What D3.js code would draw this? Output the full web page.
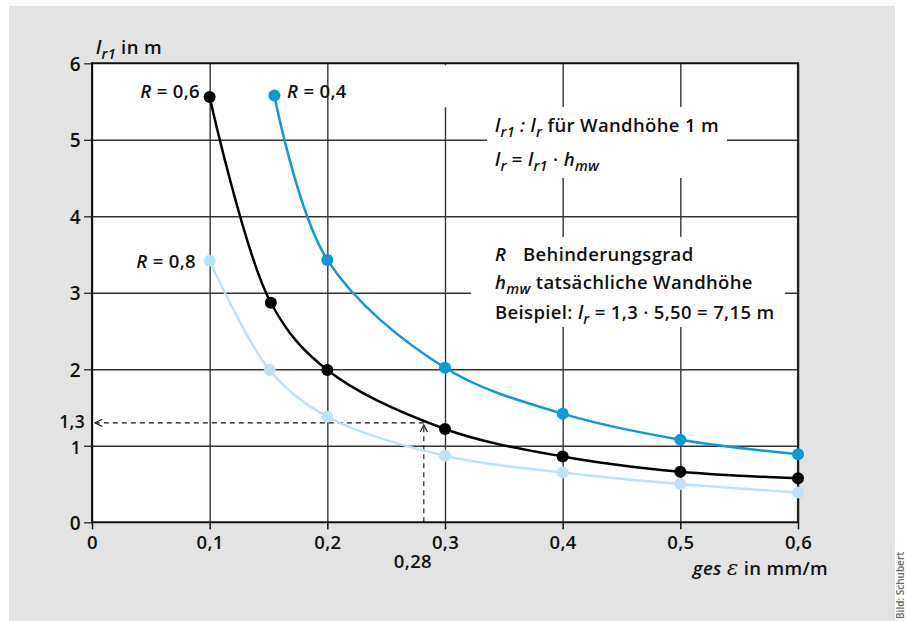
<!DOCTYPE html>
<html><head><meta charset="utf-8">
<script src="https://cdn.jsdelivr.net/npm/d3@7"></script>
<style>
html,body{margin:0;padding:0;background:#fff;}
svg{display:block;}
text{font-family:"Open Sans", Roboto, sans-serif;font-weight:600;fill:#111;letter-spacing:0.35px;}
</style></head><body>
<svg id="c" width="906" height="621"></svg>
<script>
// ---- data ----
const xTicks = [0, 0.1, 0.2, 0.3, 0.4, 0.5, 0.6];
const xTickLabels = ["0", "0,1", "0,2", "0,3", "0,4", "0,5", "0,6"];
const yTicks = [0, 1, 2, 3, 4, 5, 6];
const yTickLabels = ["0", "1", "2", "3", "4", "5", "6"];

const xR04 = [0.155, 0.2, 0.3, 0.4, 0.5, 0.6];
const yR04 = [5.58, 3.43, 2.02, 1.42, 1.08, 0.89];
const xR06 = [0.1, 0.152, 0.2, 0.3, 0.4, 0.5, 0.6];
const yR06 = [5.56, 2.87, 1.99, 1.22, 0.86, 0.66, 0.575];
const xR08 = [0.1, 0.151, 0.2, 0.3, 0.4, 0.5, 0.6];
const yR08 = [3.42, 1.99, 1.38, 0.87, 0.65, 0.50, 0.39];

const exampleX = 0.282;
const exampleY = 1.3;
const exampleXLabel = "0,28";
const exampleYLabel = "1,3";

const colR04 = "#0b9ad8";
const colR06 = "#000000";
const colR08 = "#bce2f5";

const FS = 18.5;
const FY = 17.5;
const FF = "Open Sans";

// ---- layout ----
const svg = d3.select("#c");
svg.append("rect").attr("x",9).attr("y",6).attr("width",886).attr("height",615).attr("fill","#e2e3e2");

const x = d3.scaleLinear().domain([0,0.6]).range([92,798]);
const y = d3.scaleLinear().domain([0,6]).range([522.3,63.3]);

svg.append("rect").attr("x",x(0)).attr("y",y(6)).attr("width",x(0.6)-x(0)).attr("height",y(0)-y(6)).attr("fill","#fff");

// gridlines via axes
const gx = svg.append("g").attr("transform",`translate(0,${y(0)})`)
  .call(d3.axisBottom(x).tickValues(xTicks).tickFormat("").tickSize(-(y(0)-y(6))).tickSizeOuter(0));
gx.select(".domain").remove();
gx.selectAll("line").attr("stroke","#333").attr("stroke-width",1.4);
const gx2 = svg.append("g").attr("transform",`translate(0,${y(0)})`)
  .call(d3.axisBottom(x).tickValues(xTicks).tickFormat((d,i)=>xTickLabels[i]).tickSize(7).tickPadding(7).tickSizeOuter(0));
gx2.select(".domain").remove();
gx2.selectAll("line").attr("stroke","#111").attr("stroke-width",1.5);
gx2.selectAll("text").attr("font-size",FS).attr("font-family",FF).attr("font-weight",600).attr("fill","#111");

const gy = svg.append("g").attr("transform",`translate(${x(0)},0)`)
  .call(d3.axisLeft(y).tickValues(yTicks).tickFormat((d,i)=>yTickLabels[i]).tickSize(8).tickPadding(3).tickSizeOuter(0));
gy.select(".domain").remove();
gy.selectAll("line").attr("stroke","#333").attr("stroke-width",1.4);
gy.selectAll("text").attr("font-size",FY+1.5).attr("font-family",FF).attr("font-weight",600).attr("fill","#111").attr("dy","0.36em");
const gyg = svg.append("g").attr("transform",`translate(${x(0)},0)`)
  .call(d3.axisLeft(y).tickValues(yTicks.slice(1,6)).tickFormat("").tickSize(-(x(0.6)-x(0))).tickSizeOuter(0));
gyg.select(".domain").remove();
gyg.selectAll("line").attr("stroke","#333").attr("stroke-width",1.4);
// slightly smaller label for "1" so it does not collide with "1,3"
gy.selectAll("text").filter(d=>d===1).attr("font-size",FY).attr("dy","0.45em");

// white boxes behind annotation text (interrupt gridlines)
svg.append("rect").attr("x",487).attr("y",107).attr("width",240).attr("height",71).attr("fill","#fff");
svg.append("rect").attr("x",471).attr("y",237).attr("width",314).attr("height",90).attr("fill","#fff");
svg.append("rect").attr("x",x(0.3)-4).attr("y",y(6)+2).attr("width",8).attr("height",42).attr("fill","#fff");

// frame
svg.append("line").attr("x1",x(0)).attr("x2",x(0.6)+1).attr("y1",y(6)).attr("y2",y(6)).attr("stroke","#111").attr("stroke-width",2);
svg.append("line").attr("x1",x(0.6)).attr("x2",x(0.6)).attr("y1",y(6)).attr("y2",y(0)).attr("stroke","#222").attr("stroke-width",2.2);
svg.append("line").attr("x1",x(0)).attr("x2",x(0)).attr("y1",y(6)-1).attr("y2",y(0)+1).attr("stroke","#111").attr("stroke-width",2);
svg.append("line").attr("x1",x(0)).attr("x2",x(0.6)+1).attr("y1",y(0)).attr("y2",y(0)).attr("stroke","#111").attr("stroke-width",2);

// example dashed lines with arrows
const defs = svg.append("defs");
defs.append("marker").attr("id","arr").attr("viewBox","0 0 10 10").attr("refX",9).attr("refY",5)
  .attr("markerWidth",9).attr("markerHeight",9).attr("markerUnits","userSpaceOnUse").attr("orient","auto")
  .append("path").attr("d","M1,1 L9,5 L1,9").attr("fill","none").attr("stroke","#111").attr("stroke-width",1.3);
svg.append("line").attr("x1",x(exampleX)).attr("x2",x(0)+3).attr("y1",y(exampleY)).attr("y2",y(exampleY))
  .attr("stroke","#111").attr("stroke-width",1.1).attr("stroke-dasharray","5,4").attr("marker-end","url(#arr)");
svg.append("line").attr("x1",x(exampleX)).attr("x2",x(exampleX)).attr("y1",y(0)).attr("y2",y(exampleY)+2)
  .attr("stroke","#111").attr("stroke-width",1.1).attr("stroke-dasharray","5,4").attr("marker-end","url(#arr)");

// curves
const series = [
  {xs:xR08, ys:yR08, c:colR08},
  {xs:xR06, ys:yR06, c:colR06},
  {xs:xR04, ys:yR04, c:colR04}
];
const line = d3.line().x(d=>x(d[0])).y(d=>y(d[1])).curve(d3.curveCatmullRom.alpha(0.5));
series.forEach(s=>{
  const pts = s.xs.map((v,i)=>[v,s.ys[i]]);
  svg.append("path").attr("d",line(pts)).attr("fill","none").attr("stroke",s.c).attr("stroke-width",2.5);
  svg.selectAll(null).data(pts).enter().append("circle")
    .attr("cx",d=>x(d[0])).attr("cy",d=>y(d[1])).attr("r",6).attr("fill",s.c);
});

// text helpers
function rich(parent, xx, yy, parts, size, anchor){
  const t = parent.append("text").attr("x",xx).attr("y",yy).attr("font-size",size).attr("text-anchor",anchor||"start");
  parts.forEach(p=>{
    const ts = t.append("tspan").text(p.t);
    if(p.i) ts.attr("font-style","italic");
    if(p.sub){ ts.attr("font-size",size*0.78).attr("dy",size*0.25); }
    if(p.up){ ts.attr("dy",-size*0.25); }
    if(p.f) ts.attr("font-family",p.f);
    if(p.fs) ts.attr("font-size",p.fs);
    if(p.w) ts.attr("font-weight",p.w);
  });
  return t;
}

// axis titles
rich(svg, 96, 54, [{t:"l",i:1},{t:"r1",i:1,sub:1},{t:" in m",up:1}], FS);
rich(svg, 828, 575, [{t:"ges ",i:1},{t:"ε",i:1,f:"DejaVu Serif",fs:21,w:400},{t:" in mm/m"}], FS, "end");

// extra tick labels
svg.append("text").attr("x",85).attr("y",y(exampleY)).attr("dy","0.3em").attr("text-anchor","end").attr("font-size",FY).text(exampleYLabel);
svg.append("text").attr("x",432).attr("y",568).attr("text-anchor","end").attr("font-size",FS).text(exampleXLabel);

// series labels
rich(svg, 200, 98, [{t:"R",i:1},{t:" = 0,6"}], FS, "end");
rich(svg, 287, 98, [{t:"R",i:1},{t:" = 0,4"}], FS, "start");
rich(svg, 196, 268, [{t:"R",i:1},{t:" = 0,8"}], FS, "end");

// annotation texts
rich(svg, 495, 132, [{t:"l",i:1},{t:"r1",i:1,sub:1},{t:" : ",i:1,up:1},{t:"l",i:1},{t:"r",i:1,sub:1},{t:" für Wandhöhe 1 m",up:1}], FS);
rich(svg, 495, 166, [{t:"l",i:1},{t:"r",i:1,sub:1},{t:" = ",up:1},{t:"l",i:1},{t:"r1",i:1,sub:1},{t:" · ",up:1},{t:"h",i:1},{t:"mw",i:1,sub:1}], FS);
rich(svg, 495, 261, [{t:"R",i:1}], FS);
rich(svg, 523, 261, [{t:"Behinderungsgrad"}], FS);
rich(svg, 495, 289, [{t:"h",i:1},{t:"mw",i:1,sub:1},{t:" tatsächliche Wandhöhe",up:1}], FS);
rich(svg, 495, 319, [{t:"Beispiel: "},{t:"l",i:1},{t:"r",i:1,sub:1},{t:" = 1,3 · 5,50 = 7,15 m",up:1}], FS);

// credit
svg.append("text").attr("transform","translate(904,619) rotate(-90)").attr("font-size",10).attr("font-weight",400)
  .attr("font-family","Liberation Sans").style("letter-spacing","0").style("fill","#666").text("Bild: Schubert");
</script>
</body></html>
